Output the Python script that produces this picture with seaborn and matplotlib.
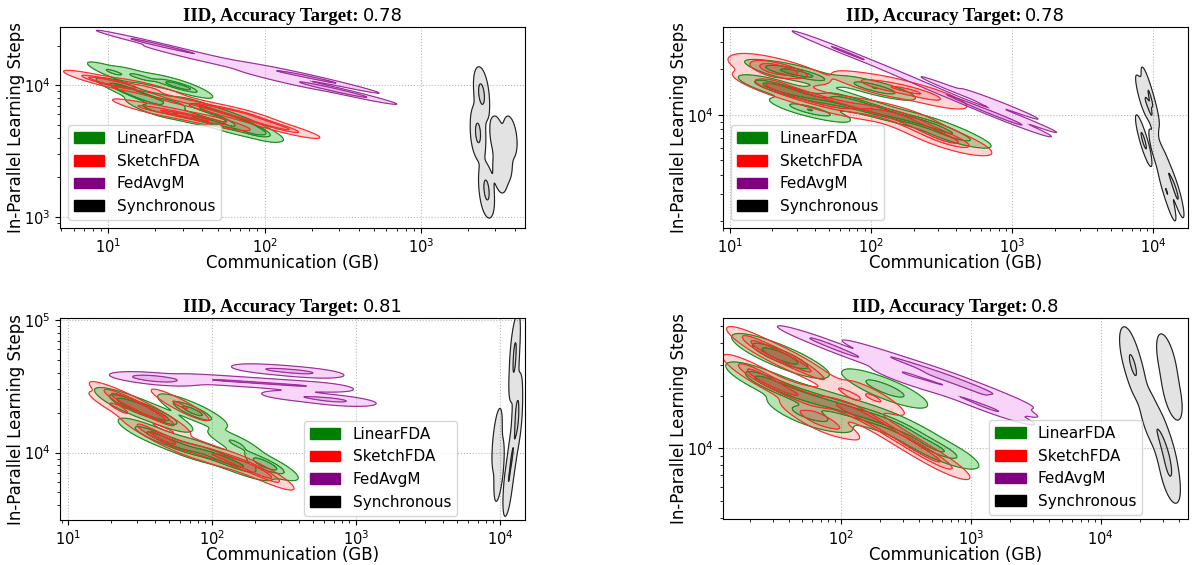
import numpy as np
import pandas as pd
import matplotlib
matplotlib.use("Agg")
import matplotlib.pyplot as plt
import matplotlib.patches as mpatches
from matplotlib.colors import ListedColormap
from matplotlib.transforms import IdentityTransform
import seaborn as sns

plt.rcParams["font.family"] = ["DejaVu Sans"]

METHODS = ["LinearFDA", "SketchFDA", "FedAvgM", "Synchronous"]
COLORS = ["green", "red", "purple", "black"]
TARGETS = ["0.78", "0.78", "0.81", "0.8"]

# ---- panel 1 (top left) ----
TL_LINEAR_X = [10.56, 15.95, 24.8, 32.4, 12.2, 14.5, 18.5, 18.5, 26, 27, 38.6, 38.6, 55, 55, 75, 80, 90]
TL_LINEAR_Y = [12630, 11570, 10230, 9540, 9540, 8700, 7800, 6700, 7300, 6100, 6800, 5600, 5900, 4950, 5150, 4450, 4550]
TL_SKETCH_X = [8.8, 9.8, 12.8, 18.5, 17.2, 24.8, 35.9, 24.8, 38.6, 55.8, 80.7, 108, 138, 70, 50]
TL_SKETCH_Y = [10900, 10590, 10050, 9540, 6720, 6260, 5640, 8000, 7205, 6260, 5640, 5075, 4620, 6200, 5300]
TL_FEDAVGM_X = [17, 18.5, 31.0, 31.0, 51.8, 86.8, 60.1, 108, 195, 290, 125.5, 226, 310, 340, 150, 260]
TL_FEDAVGM_Y = [21500, 20800, 18200, 16900, 14800, 13070, 15000, 13070, 11570, 10400, 10970, 9710, 9100, 8800, 12200, 9300]
TL_SYNC_X = [2424, 2460, 2319, 2319, 3068, 3718, 3452, 3206, 2609, 2648]
TL_SYNC_Y = [9540, 7730, 4900, 3834, 4042, 4042, 2701, 2188, 1805, 1413]

# ---- panel 2 (top right) ----
TR_LINEAR_X = [20.85, 28.9, 38.1, 20.5, 20.85, 31.35, 47.1, 70.8, 98.8, 90.4, 125.2, 31.35, 43.4, 115.4, 173.5, 240.3, 333, 430, 60]
TR_LINEAR_Y = [19690, 19100, 17970, 15500, 14990, 13480, 12490, 11760, 11230, 15450, 14540, 11070, 10420, 10420, 9512, 8954, 7932, 7000, 13200]
TR_SKETCH_X = [18.5, 20.85, 26.6, 19.5, 26.6, 40.0, 60.1, 98.8, 159.7, 98.8, 159.7, 260.2, 203.8, 306.3, 380]
TR_SKETCH_Y = [19100, 20290, 19690, 15680, 14100, 12490, 11410, 10740, 9954, 15920, 14990, 13270, 8553, 7353, 6550]
TR_FEDAVGM_X = [53, 70.8, 125.2, 221, 361, 588, 880, 930, 424, 692, 815, 1100]
TR_FEDAVGM_Y = [28000, 25070, 20290, 16170, 13270, 11070, 9600, 9200, 14100, 10420, 11760, 9600]
TR_SYNC_X = [8920, 9100, 9710, 8770, 11380, 11860, 13900, 13000, 8300, 9900, 8300, 10300, 12600, 14800]
TR_SYNC_Y = [12490, 14990, 9954, 6320, 5170, 3540, 3410, 2747, 13200, 11500, 7200, 5800, 4300, 2900]

# ---- panel 3 (bottom left) ----
BL_LINEAR_X = [23.7, 29.2, 37.1, 47.2, 64.9, 82.5, 34.2, 47.2, 64.9, 89.4, 123.1, 169.6, 144.5, 222.6, 250]
BL_LINEAR_Y = [24110, 22480, 20260, 18260, 21710, 19570, 14320, 12460, 10850, 10120, 8810, 7800, 11830, 8360, 7950]
BL_SKETCH_X = [23, 22.2, 26.9, 34.2, 43.5, 59.9, 37.1, 51.1, 76.2, 104.9, 144.5, 199, 225]
BL_SKETCH_Y = [25300, 21710, 24110, 20980, 18260, 22880, 14320, 12040, 10480, 9610, 8510, 7406, 7100]
BL_FEDAVGM_X = [36, 37.1, 47.2, 82.5, 133.4, 215.6, 348.4, 563.1, 233.5, 348.4, 479.8, 377.5, 610, 800]
BL_FEDAVGM_Y = [37000, 36550, 34700, 35930, 34700, 33520, 32370, 31270, 42740, 41270, 39860, 26760, 25390, 24400]
BL_SYNC_X = [9563, 9874, 12760, 12550, 13170, 13170, 12160, 11400]
BL_SYNC_Y = [12460, 7406, 64800, 42010, 22880, 16170, 9610, 5709]

# ---- panel 4 (bottom right) ----
BR_LINEAR_X = [26.1, 34.0, 44.4, 24, 28.5, 40.6, 57.8, 82.5, 117.5, 167.4, 238.6, 340.1, 484.6, 640, 182.9, 260.8, 48.4, 69.1]
BR_LINEAR_Y = [36440, 33690, 31130, 25000, 23310, 20970, 19380, 17910, 16550, 15290, 14130, 12390, 10440, 9400, 22990, 20970, 15910, 15290]
BR_SKETCH_X = [23.0, 28.5, 40.6, 52.9, 21.5, 26.1, 40.6, 63.2, 98.4, 140.3, 199.9, 284.8, 405.9, 578.6, 57.8, 82.5, 117.5, 182.9]
BR_SKETCH_Y = [38930, 35500, 31960, 28760, 27000, 24560, 20970, 18880, 17450, 15700, 13590, 11450, 9779, 8350, 14900, 14130, 20160, 19380]
BR_FEDAVGM_X = [64, 69.1, 107.5, 140.3, 182.9, 284.8, 443.6, 690.6, 1075.6, 1674, 1800, 311, 529.3, 824.7, 1402.6, 1600, 350, 560, 900, 1400]
BR_FEDAVGM_Y = [42000, 40490, 35500, 32810, 35500, 31960, 28760, 25890, 22700, 19910, 17600, 24560, 22110, 19910, 16990, 16200, 28000, 25500, 22500, 19500]
BR_SYNC_X = [16740, 18620, 23860, 28490, 32240, 34010, 32240, 35240]
BR_SYNC_Y = [34130, 26240, 15500, 11910, 9157, 7038, 31130, 20970]

PANELS = [
    dict(data=[(TL_LINEAR_X, TL_LINEAR_Y), (TL_SKETCH_X, TL_SKETCH_Y), (TL_FEDAVGM_X, TL_FEDAVGM_Y), (TL_SYNC_X, TL_SYNC_Y)],
         rect=[60.1, 26.7, 525.1, 227.7], xlim=(4.92, 4640), ylim=(825, 27900),
         legend=dict(loc="lower left"), fed_bw=0.6),
    dict(data=[(TR_LINEAR_X, TR_LINEAR_Y), (TR_SKETCH_X, TR_SKETCH_Y), (TR_FEDAVGM_X, TR_FEDAVGM_Y), (TR_SYNC_X, TR_SYNC_Y)],
         rect=[723.1, 26.7, 1187.9, 227.7], xlim=(8.95, 17540), ylim=(1806, 37900),
         legend=dict(loc="lower left"), fed_bw=0.5),
    dict(data=[(BL_LINEAR_X, BL_LINEAR_Y), (BL_SKETCH_X, BL_SKETCH_Y), (BL_FEDAVGM_X, BL_FEDAVGM_Y), (BL_SYNC_X, BL_SYNC_Y)],
         rect=[60.1, 318.3, 525.1, 520], xlim=(8.8, 14970), ylim=(3100, 103000),
         legend=dict(loc="lower right", bbox_to_anchor=(0.854, 0.021), borderaxespad=0), fed_bw=0.42),
    dict(data=[(BR_LINEAR_X, BR_LINEAR_Y), (BR_SKETCH_X, BR_SKETCH_Y), (BR_FEDAVGM_X, BR_FEDAVGM_Y), (BR_SYNC_X, BR_SYNC_Y)],
         rect=[723.1, 318.3, 1187.9, 519.3], xlim=(12.4, 46800), ylim=(3930, 55300),
         legend=dict(loc="lower right", bbox_to_anchor=(0.902, 0.021), borderaxespad=0), fed_bw=0.6),
]

# contour iso-proportion levels per method (lines); fills add the peak (1.0)
LEVELS = {
    "LinearFDA": [0.06, 0.4, 0.7],
    "SketchFDA": [0.06, 0.4, 0.7],
    "FedAvgM": [0.06, 0.75],
    "Synchronous": [0.06, 0.85],
}
FILLS = {
    "LinearFDA": [(0.1, 0.7, 0.1, 0.33), (0.0, 0.5, 0.0, 0.35), (0.0, 0.45, 0.0, 0.45)],
    "SketchFDA": [(1.0, 0.1, 0.1, 0.18), (0.9, 0.0, 0.0, 0.28), (0.8, 0.0, 0.0, 0.38)],
    "FedAvgM": [(0.92, 0.45, 0.92, 0.30), (0.8, 0.3, 0.8, 0.40)],
    "Synchronous": [(0.0, 0.0, 0.0, 0.11), (0.0, 0.0, 0.0, 0.17)],
}
LINE_COLORS = {"LinearFDA": "#1e8c1e", "SketchFDA": "#ff2a2a",
               "FedAvgM": "#9a2e9a", "Synchronous": "#222222"}
BW = {"LinearFDA": 0.5, "SketchFDA": 0.5, "Synchronous": 0.45}

W, H = 1194, 565
fig = plt.figure(figsize=(W / 100, H / 100), dpi=100)
titles = []

for i, p in enumerate(PANELS):
    l, t, r, b = p["rect"]
    ax = fig.add_axes([l / W, 1 - b / H, (r - l) / W, (b - t) / H])
    for m, (x, y) in zip(METHODS, p["data"]):
        df = pd.DataFrame({"comm": x, "steps": y})
        bw = p["fed_bw"] if m == "FedAvgM" else BW[m]
        kw = dict(data=df, x="comm", y="steps", bw_adjust=bw, log_scale=True, ax=ax)
        sns.kdeplot(fill=True, levels=LEVELS[m] + [1.0], cmap=ListedColormap(FILLS[m]), **kw)
        sns.kdeplot(fill=False, levels=LEVELS[m], color=LINE_COLORS[m], linewidths=0.85, **kw)
    ax.set_xlim(*p["xlim"])
    ax.set_ylim(*p["ylim"])
    ax.grid(True, which="major", ls=":", color="#bbbbbb", lw=0.8)
    ax.set_axisbelow(True)
    ax.tick_params(labelsize=10.5)
    ax.set_xlabel("Communication (GB)", fontsize=12, labelpad=-1.5)
    ax.set_ylabel("In-Parallel Learning Steps", fontsize=12, labelpad=-1)
    handles = [mpatches.Patch(color=c, label=m) for m, c in zip(METHODS, COLORS)]
    ax.legend(handles=handles, fontsize=11, **p["legend"])
    t1 = fig.text(0, 0, "IID, Accuracy Target:", family="Liberation Serif",
                  fontweight="bold", fontsize=13.5, va="baseline", ha="left")
    t2 = fig.text(0, 0, TARGETS[i], family="DejaVu Sans", fontsize=13,
                  va="baseline", ha="left")
    titles.append((ax, t1, t2))

fig.canvas.draw()
rend = fig.canvas.get_renderer()
for ax, t1, t2 in titles:
    bb = ax.get_window_extent(rend)
    w1 = t1.get_window_extent(rend).width
    w2 = t2.get_window_extent(rend).width
    gap = 4
    x0 = bb.x0 + bb.width / 2 - (w1 + gap + w2) / 2
    yb = bb.y1 + 6
    t1.set_transform(IdentityTransform())
    t2.set_transform(IdentityTransform())
    t1.set_position((x0, yb))
    t2.set_position((x0 + w1 + gap, yb))

fig.savefig("out.png", dpi=100)
